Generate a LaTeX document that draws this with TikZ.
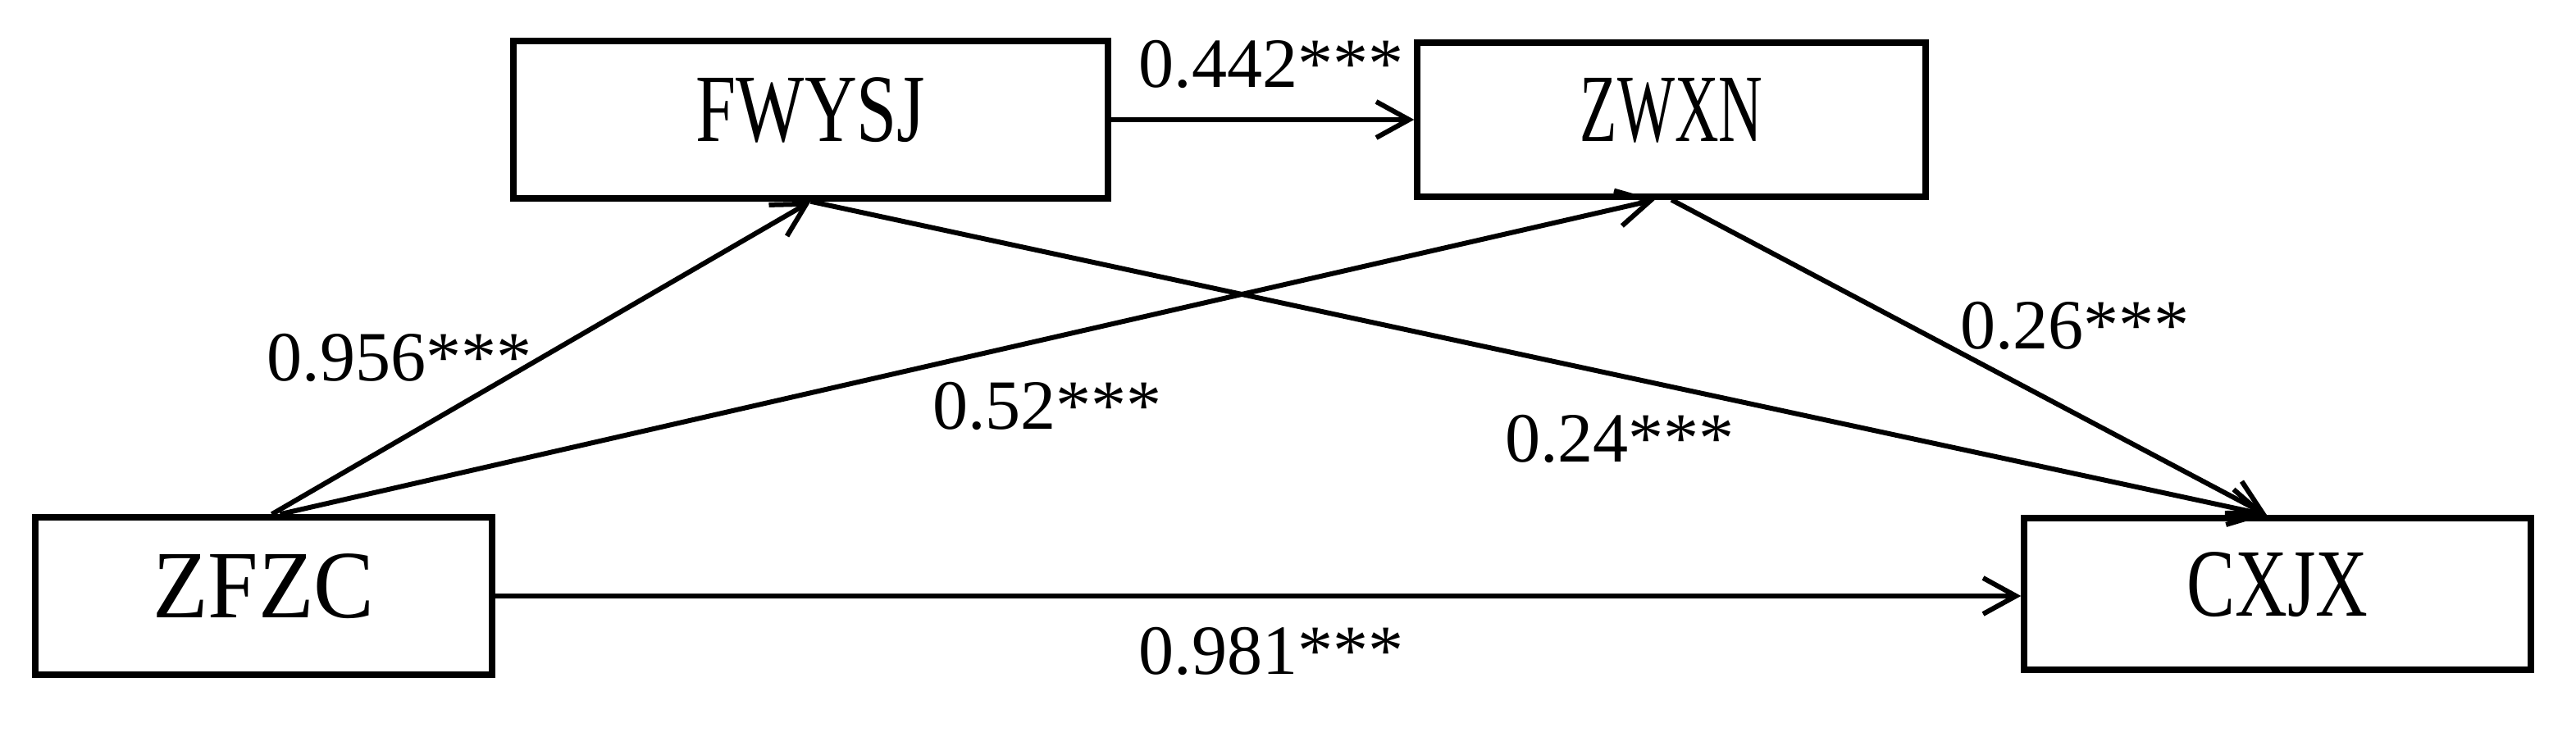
\documentclass[tikz,border=0pt]{standalone}
\usepackage{fontspec}
\setmainfont{Liberation Serif}
\usetikzlibrary{arrows.meta}
\tikzset{
  var/.style={draw, line width=0.075cm, inner sep=0pt, text height=0.80cm, text depth=0.26cm,
    font=\fontsize{33.5}{40}\selectfont},
  coef/.style={inner sep=0pt, font=\fontsize{24.5}{29}\selectfont},
  path/.style={line width=0.06cm, -{Straight Barb[length=4mm, width=4.4mm, line width=0.06cm]}}
}
\begin{document}
\begin{tikzpicture}
       \useasboundingbox (0,0) rectangle (31.41,8.99);
       \node[var, minimum width=5.57cm, minimum height=1.92cm] (zfzc) at (3.215,1.72) {\scalebox{0.94}[1]{ZFZC}};
       \node[var, minimum width=7.25cm, minimum height=1.92cm] (fwysj) at (9.885,7.53) {\scalebox{0.75}[1]{FWYSJ}};
       \node[var, minimum width=6.20cm, minimum height=1.88cm] (zwxn) at (20.38,7.53) {\scalebox{0.63}[1]{ZWXN}};
       \node[var, minimum width=6.18cm, minimum height=1.85cm] (cxjx) at (27.77,1.745) {\scalebox{0.75}[1]{CXJX}};
       \node[coef] (c1) at (15.50,8.20) {0.442***};
       \node[coef] (c2) at (4.87,4.63) {0.956***};
       \node[coef] (c3) at (12.77,4.04) {0.52***};
       \node[coef] (c4) at (19.75,3.64) {0.24***};
       \node[coef] (c5) at (25.30,5.02) {0.26***};
       \node[coef] (c6) at (15.50,1.05) {0.981***};
       \draw [path] (fwysj.east) -- (fwysj.east -| zwxn.west);
       \draw [path] ([xshift=0.1cm]zfzc.north) -- (fwysj.south);
       \draw [path] ([xshift=0.2cm]zfzc.north) -- ([xshift=-0.2cm]zwxn.south);
       \draw [path] (fwysj.south) -- ([xshift=-0.13cm]cxjx.north);
       \draw [path] (zwxn.south) -- ([xshift=-0.13cm]cxjx.north);
       \draw [path] (zfzc.east) -- (zfzc.east -| cxjx.west);
\end{tikzpicture}
\end{document}
